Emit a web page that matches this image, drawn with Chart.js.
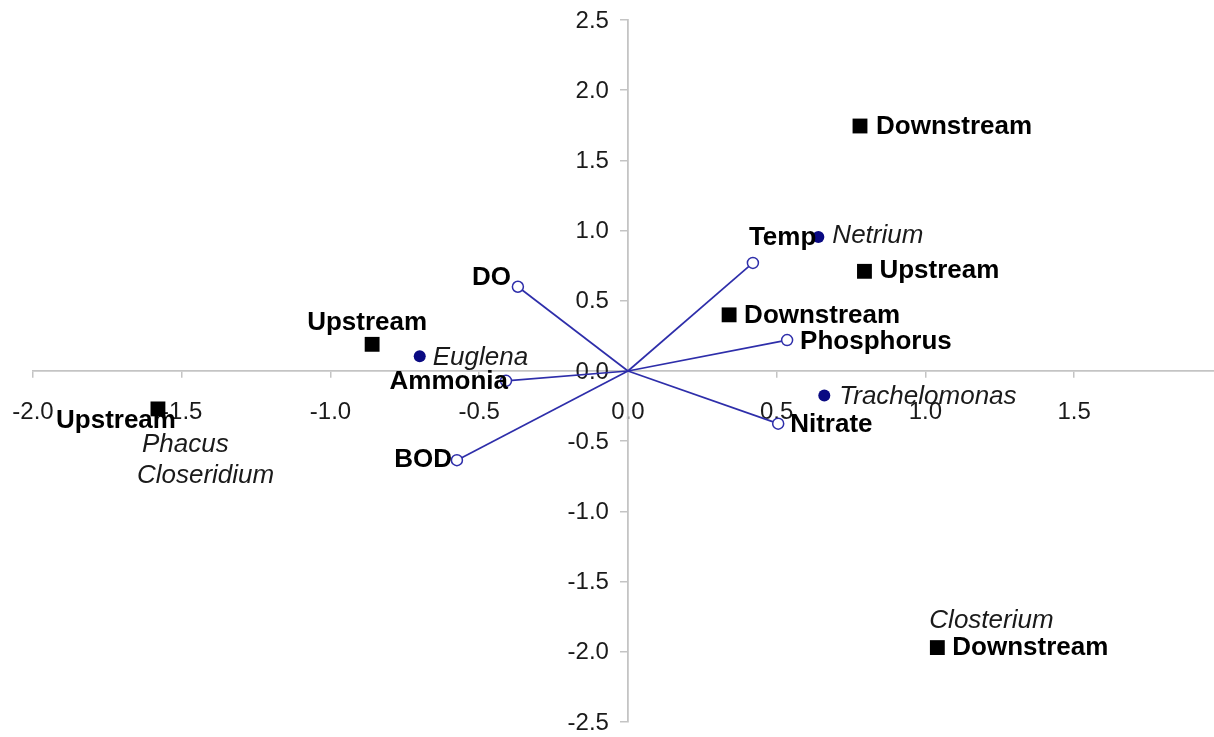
<!DOCTYPE html>
<html>
<head>
<meta charset="utf-8">
<script src="https://cdn.jsdelivr.net/npm/chart.js@4.4.1/dist/chart.umd.min.js"></script>
<style>
  html, body { margin: 0; padding: 0; background: #ffffff; overflow: hidden; }
  canvas { display: block; }
</style>
</head>
<body>
<canvas id="cca" width="1214" height="737"></canvas>
<script>
// Sampling sites (site scores on axes 1 and 2)
const siteNames = ['Downstream', 'Upstream', 'Downstream', 'Upstream', 'Upstream', 'Downstream'];
const siteX = [0.78, 0.795, 0.34, -0.86, -1.58, 1.04];
const siteY = [1.745, 0.71, 0.40, 0.19, -0.27, -1.97];

// Algal taxa (species scores)
const speciesNames = ['Netrium', 'Euglena', 'Trachelomonas', 'Phacus', 'Closeridium', 'Closterium'];
const speciesX = [0.64, -0.70, 0.66, -1.58, -1.58, 1.04];
const speciesY = [0.955, 0.105, -0.175, -0.27, -0.27, -1.97];

// Environmental variables (biplot arrows drawn from the origin)
const envNames = ['Temp', 'DO', 'Phosphorus', 'Ammonia', 'Nitrate', 'BOD'];
const envX = [0.42, -0.37, 0.535, -0.41, 0.505, -0.575];
const envY = [0.77, 0.60, 0.22, -0.07, -0.375, -0.635];

// Axis tick values
const xTicks = [-2.0, -1.5, -1.0, -0.5, 0.0, 0.5, 1.0, 1.5];
const yTicks = [-2.5, -2.0, -1.5, -1.0, -0.5, 0.0, 0.5, 1.0, 1.5, 2.0, 2.5];

// Where each label sits relative to its marker: [textAlign, dx, dy]
const sitePlace = [['left', 16, 1], ['left', 15, 0], ['left', 15, 1], ['center', -5, -21], ['right', 18, 12], ['left', 15, 0]];
const speciesPlace = [['left', 14, -1], ['left', 13, 2], ['left', 15, 1], ['left', -16, 36], ['left', -21, 67], ['left', -8, -27]];
const envPlace = [['left', -4, -25], ['right', -7, -9], ['left', 13, 2], ['right', 2, 1], ['left', 12, 1], ['right', -5, 0]];

const FONT = "'Liberation Sans', Arial, Helvetica, sans-serif";
const NAVY = '#0a0a82';
const LINE = '#2e2eaa';
const AXIS = '#c4c4c4';
const TICK_TEXT = '#1a1a1a';

const fmt = v => Number(v).toFixed(1);
const toPoints = (xs, ys) => xs.map((v, i) => ({ x: v, y: ys[i] }));

const datasets = [
  {
    label: 'Sites',
    data: toPoints(siteX, siteY),
    pointStyle: 'rect',
    pointRadius: 10.5,
    backgroundColor: '#000000',
    borderWidth: 0,
    showLine: false
  },
  {
    label: 'Species',
    data: toPoints(speciesX, speciesY),
    pointStyle: 'circle',
    pointRadius: 6,
    backgroundColor: NAVY,
    borderWidth: 0,
    showLine: false
  }
];

envNames.forEach((name, i) => {
  datasets.push({
    label: name,
    data: [{ x: 0, y: 0 }, { x: envX[i], y: envY[i] }],
    showLine: true,
    borderColor: LINE,
    borderWidth: 1.7,
    pointRadius: [0, 5.5],
    pointBackgroundColor: '#ffffff',
    pointBorderColor: LINE,
    pointBorderWidth: 1.5
  });
});

// Vertical-axis tick labels sit to the left of the centred y axis
const yLabelPlugin = {
  id: 'yAxisLabels',
  beforeDatasetsDraw(chart) {
    const { ctx, scales: { x, y } } = chart;
    const axisX = x.getPixelForValue(0);
    ctx.save();
    ctx.font = '24px ' + FONT;
    ctx.fillStyle = TICK_TEXT;
    ctx.textAlign = 'right';
    ctx.textBaseline = 'middle';
    y.ticks.forEach(t => {
      ctx.fillText(fmt(t.value), axisX - 19, y.getPixelForValue(t.value) + 1);
    });
    ctx.restore();
  }
};

// Names of sites, taxa and environmental variables
const labelPlugin = {
  id: 'markerLabels',
  afterDatasetsDraw(chart) {
    const { ctx, scales: { x, y } } = chart;
    ctx.save();
    ctx.textBaseline = 'middle';
    const put = (names, xs, ys, place, font, color) => {
      ctx.font = font;
      ctx.fillStyle = color;
      names.forEach((n, i) => {
        const p = place[i];
        ctx.textAlign = p[0];
        ctx.fillText(n, x.getPixelForValue(xs[i]) + p[1], y.getPixelForValue(ys[i]) + p[2]);
      });
    };
    put(siteNames, siteX, siteY, sitePlace, 'bold 26px ' + FONT, '#000000');
    put(envNames, envX, envY, envPlace, 'bold 26px ' + FONT, '#000000');
    put(speciesNames, speciesX, speciesY, speciesPlace, 'italic 26px ' + FONT, '#1a1a1a');
    ctx.restore();
  }
};

new Chart(document.getElementById('cca'), {
  type: 'scatter',
  data: { datasets },
  plugins: [yLabelPlugin, labelPlugin],
  options: {
    responsive: false,
    animation: false,
    events: [],
    layout: { autoPadding: false, padding: { left: 33, right: 0, top: 20, bottom: 15 } },
    plugins: { legend: { display: false }, tooltip: { enabled: false } },
    scales: {
      x: {
        type: 'linear',
        min: -2,
        max: 1.97,
        position: { y: 0 },
        afterBuildTicks: s => { s.ticks = xTicks.map(v => ({ value: v })); },
        afterFit: s => { s.paddingLeft = 0; s.paddingRight = 0; },
        ticks: {
          callback: fmt,
          font: { size: 24, family: FONT },
          color: TICK_TEXT,
          padding: 21,
          maxRotation: 0,
          autoSkip: false
        },
        grid: { drawOnChartArea: false, drawTicks: true, tickLength: 6, color: AXIS, lineWidth: 1.5 },
        border: { display: true, color: AXIS, width: 1.8 }
      },
      y: {
        type: 'linear',
        min: -2.5,
        max: 2.5,
        position: { x: 0 },
        afterBuildTicks: s => { s.ticks = yTicks.map(v => ({ value: v })); },
        afterFit: s => { s.paddingTop = 0; s.paddingBottom = 0; },
        ticks: { display: false, autoSkip: false },
        grid: { drawOnChartArea: false, drawTicks: true, tickLength: 7, color: AXIS, lineWidth: 1.5 },
        border: { display: true, color: AXIS, width: 1.8 }
      }
    }
  }
});
</script>
</body>
</html>
